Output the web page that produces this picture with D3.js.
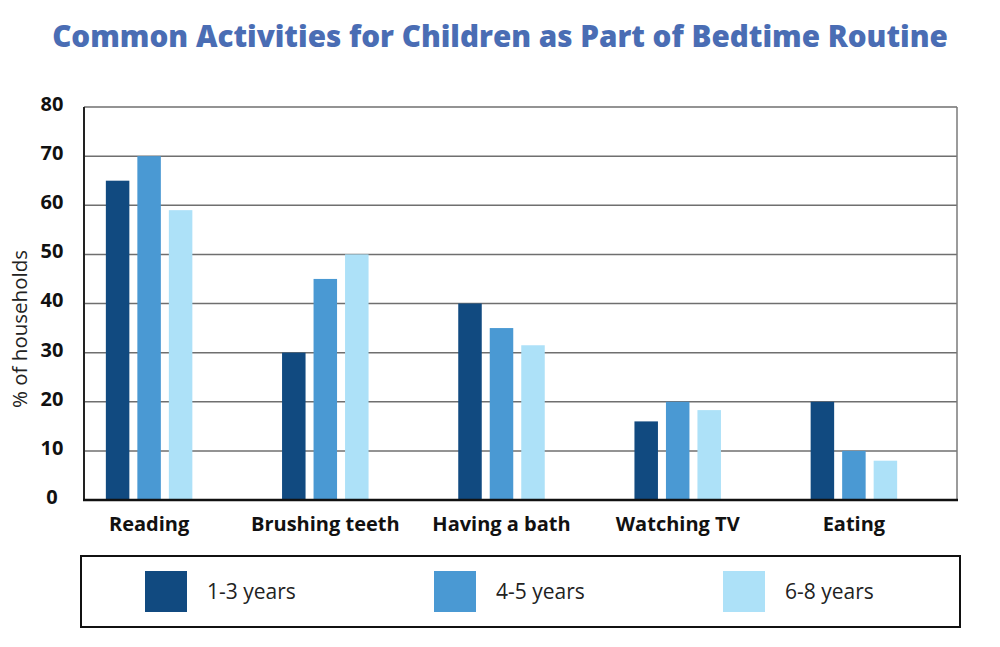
<!DOCTYPE html>
<html>
<head>
<meta charset="utf-8">
<script src="https://cdn.jsdelivr.net/npm/d3@7"></script>
<style>
  body { margin: 0; background: #fff; }
  svg { display: block; }
  text { font-family: "Open Sans", "Noto Sans", sans-serif; }
</style>
</head>
<body>
<svg id="chart" width="1000" height="647"></svg>
<script>
// ---- data ----
const categories = ["Reading", "Brushing teeth", "Having a bath", "Watching TV", "Eating"];
const seriesNames = ["1-3 years", "4-5 years", "6-8 years"];
const age1to3 = [65, 30, 40, 16, 20];
const age4to5 = [70, 45, 35, 20, 10];
const age6to8 = [59, 50, 31.5, 18.3, 8];
const yTicks = [0, 10, 20, 30, 40, 50, 60, 70, 80];
const colors = ["#114a80", "#4a99d3", "#ade1f8"];
const titleText = "Common Activities for Children as Part of Bedtime Routine";
const yTitle = "% of households";

const seriesValues = [age1to3, age4to5, age6to8];
const data = categories.map((c, i) => ({
  category: c,
  values: seriesNames.map((s, j) => ({ series: s, value: seriesValues[j][i] }))
}));

const svg = d3.select("#chart");
const plot = { left: 84, right: 957, top: 107, bottom: 500 };

const x0 = d3.scaleBand().domain(categories).range([61, 942]);
const x1 = d3.scaleBand().domain(seriesNames).range([-43.25, 43.25]).paddingInner(0.254).paddingOuter(0);
const y = d3.scaleLinear().domain([0, 80]).range([plot.bottom, plot.top]);
const color = d3.scaleOrdinal().domain(seriesNames).range(colors);

// Title
const title = svg.append("text")
  .attr("x", 500).attr("y", 47)
  .attr("text-anchor", "middle")
  .attr("fill", "#4a6db4")
  .attr("font-weight", 800)
  .attr("font-size", 29)
  .text(titleText);
(function fit() {
  const w = title.node().getComputedTextLength();
  title.attr("font-size", 29 * 896 / w);
})();

// Gridlines
svg.append("g").selectAll("line")
  .data(yTicks)
  .join("line")
  .attr("x1", plot.left).attr("x2", plot.right)
  .attr("y1", d => y(d)).attr("y2", d => y(d))
  .attr("stroke", "#6f6f6f")
  .attr("stroke-width", 1.5);

// Right border
svg.append("line")
  .attr("x1", plot.right).attr("x2", plot.right)
  .attr("y1", plot.top).attr("y2", plot.bottom)
  .attr("stroke", "#7a7a7a").attr("stroke-width", 1.5);

// Bars
const groups = svg.append("g").selectAll("g")
  .data(data)
  .join("g")
  .attr("transform", d => `translate(${x0(d.category) + x0.bandwidth() / 2},0)`);

groups.selectAll("rect")
  .data(d => d.values)
  .join("rect")
  .attr("x", d => x1(d.series))
  .attr("width", x1.bandwidth())
  .attr("y", d => y(d.value))
  .attr("height", d => y(0) - y(d.value))
  .attr("fill", d => color(d.series));

// Axes lines
svg.append("line")
  .attr("x1", plot.left).attr("x2", plot.left)
  .attr("y1", plot.top).attr("y2", plot.bottom + 1)
  .attr("stroke", "#222").attr("stroke-width", 2);
svg.append("line")
  .attr("x1", plot.left - 1).attr("x2", plot.right + 1)
  .attr("y1", plot.bottom).attr("y2", plot.bottom)
  .attr("stroke", "#111").attr("stroke-width", 2.5);

// Y tick labels
const yAxis = d3.axisLeft(y).tickValues(yTicks).tickSize(0).tickPadding(0);
const yg = svg.append("g").attr("transform", "translate(52,-3)").call(yAxis);
yg.select(".domain").remove();
yg.selectAll("text")
  .attr("text-anchor", "middle")
  .attr("x", 0)
  .attr("font-size", 20)
  .attr("font-weight", 700)
  .attr("font-family", "'Open Sans', sans-serif")
  .attr("fill", "#111");

// Y axis title
svg.append("text")
  .attr("transform", "translate(27,329) rotate(-90)")
  .attr("text-anchor", "middle")
  .attr("font-size", 20.5)
  .attr("fill", "#222")
  .text(yTitle);

// X category labels
const xAxis = d3.axisBottom(x0).tickSize(0).tickPadding(0);
const xg = svg.append("g").attr("transform", `translate(0,${plot.bottom})`).call(xAxis);
xg.select(".domain").remove();
xg.selectAll("text")
  .attr("y", 31)
  .attr("dy", 0)
  .attr("font-size", 20)
  .attr("font-weight", 700)
  .attr("font-family", "'Open Sans', sans-serif")
  .attr("fill", "#111");

// Legend
const legend = svg.append("g");
legend.append("rect")
  .attr("x", 81).attr("y", 556)
  .attr("width", 879).attr("height", 71)
  .attr("fill", "none")
  .attr("stroke", "#111").attr("stroke-width", 2);

const legendX = d3.scalePoint().domain(seriesNames).range([145, 723]);
const items = legend.selectAll("g.item")
  .data(seriesNames)
  .join("g")
  .attr("class", "item")
  .attr("transform", d => `translate(${legendX(d)},571)`);
items.append("rect")
  .attr("width", 42).attr("height", 41)
  .attr("fill", d => color(d));
items.append("text")
  .attr("x", 62).attr("y", 28)
  .attr("font-size", 21)
  .attr("fill", "#222")
  .text(d => d);
</script>
</body>
</html>
